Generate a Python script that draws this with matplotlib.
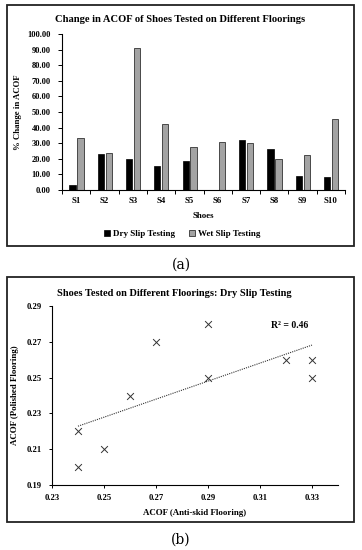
import matplotlib
matplotlib.use("Agg")
import matplotlib.pyplot as plt
import numpy as np
from matplotlib.patches import Rectangle

shoes = ["S1", "S2", "S3", "S4", "S5", "S6", "S7", "S8", "S9", "S10"]
dry = [3.2, 23.0, 19.8, 15.7, 18.9, 0.0, 32.1, 26.6, 8.8, 8.2]
wet = [33.3, 23.4, 91.2, 42.4, 27.3, 30.8, 30.1, 20.0, 22.4, 45.6]
bar_yticks = [0, 10, 20, 30, 40, 50, 60, 70, 80, 90, 100]

anti_skid = [0.24, 0.24, 0.25, 0.26, 0.27, 0.29, 0.29, 0.32, 0.33, 0.33]
polished = [0.22, 0.20, 0.21, 0.24, 0.27, 0.28, 0.25, 0.26, 0.26, 0.25]
sc_xticks = [0.23, 0.25, 0.27, 0.29, 0.31, 0.33]
sc_yticks = [0.19, 0.21, 0.23, 0.25, 0.27, 0.29]

plt.rcParams['font.family'] = ['Liberation Serif', 'DejaVu Serif']
plt.rcParams['font.weight'] = 'bold'

W, H = 362, 550
fig = plt.figure(figsize=(W / 100, H / 100), dpi=100)

def fx(px):
    return px / W

def fy(py):
    return 1 - py / H

# panel frames
for (x0, y0, x1, y1) in [(7, 5, 354, 246), (7, 277, 354, 522)]:
    fig.add_artist(Rectangle((fx(x0), fy(y1)), fx(x1) - fx(x0), fy(y0) - fy(y1),
                             transform=fig.transFigure, fill=False,
                             edgecolor='#222222', linewidth=1.3))

# ---- (a) bar chart
ax1 = fig.add_axes([fx(62), fy(190), fx(345) - fx(62), fy(34) - fy(190)])
x = np.arange(len(shoes))
bw = 0.22
ax1.bar(x - 0.13, dry, bw, color='black', edgecolor='black', linewidth=0.5,
        label='Dry Slip Testing')
ax1.bar(x + 0.15, wet, bw, color='#a3a3a3', edgecolor='#333333', linewidth=0.6,
        label='Wet Slip Testing')
ax1.set_xlim(-0.5, len(shoes) - 0.5)
ax1.set_ylim(0, 100)
ax1.set_yticks(bar_yticks)
ax1.set_yticklabels([f"{v:.2f}" for v in bar_yticks], fontsize=6, fontweight='bold')
ax1.set_xticks(x)
ax1.set_xticklabels(shoes, fontsize=6.3, fontweight='bold')
ax1.set_xticks(np.arange(-0.5, len(shoes)), minor=True)
ax1.tick_params(axis='x', which='major', length=0, pad=5)
ax1.tick_params(axis='x', which='minor', length=3, width=0.7, direction='out')
ax1.tick_params(axis='y', length=3, width=0.7, direction='out', pad=5)
for s in ['top', 'right']:
    ax1.spines[s].set_visible(False)
for s in ['left', 'bottom']:
    ax1.spines[s].set_linewidth(0.8)
fig.text(fx(180), fy(19), "Change in ACOF of Shoes Tested on Different Floorings",
         ha='center', va='center', fontsize=7.6, fontweight='bold')
ax1.set_xlabel("Shoes", fontsize=6.3, fontweight='bold', labelpad=5)
ax1.set_ylabel("% Change in ACOF", fontsize=6.3, fontweight='bold', labelpad=4)
ax1.legend(loc='center',
           bbox_to_anchor=((fx(182) - fx(62)) / (fx(345) - fx(62)),
                           (fy(234) - fy(190)) / (fy(34) - fy(190))),
           ncol=2, frameon=False, handlelength=0.7, handleheight=0.7, handletextpad=0.3,
           columnspacing=1.6, prop={'weight': 'bold', 'size': 6.5})

fig.text(fx(181), fy(265), "(a)", ha='center', va='center', fontsize=10,
         fontweight='normal', family=['DejaVu Serif'])

# ---- (b) scatter
ax2 = fig.add_axes([fx(52), fy(485), fx(338) - fx(52), fy(306) - fy(485)])
ax2.scatter(anti_skid, polished, marker='x', s=24, color='#333333', linewidths=0.7)
coef = np.polyfit(anti_skid, polished, 1)
xs = np.array([min(anti_skid), max(anti_skid)])
ax2.plot(xs, np.polyval(coef, xs), linestyle=(0, (1, 1)), color='#333333', linewidth=0.8)
pred = np.polyval(coef, anti_skid)
r2 = 1 - np.sum((np.array(polished) - pred) ** 2) / np.sum((np.array(polished) - np.mean(polished)) ** 2)
ax2.text(0.3215, 0.279, f"R² = {r2:.2f}", fontsize=7, fontweight='bold',
         ha='center', va='center')
ax2.set_xlim(0.23, 0.34)
ax2.set_ylim(0.19, 0.29)
ax2.set_xticks(sc_xticks)
ax2.set_xticklabels([f"{v:.2f}" for v in sc_xticks], fontsize=6.2, fontweight='bold')
ax2.set_yticks(sc_yticks)
ax2.set_yticklabels([f"{v:.2f}" for v in sc_yticks], fontsize=6.2, fontweight='bold')
ax2.tick_params(axis='y', length=2.5, width=0.7, direction='out', pad=5)
ax2.tick_params(axis='x', length=2.5, width=0.7, direction='out', pad=4)
for s in ['top', 'right']:
    ax2.spines[s].set_visible(False)
for s in ['left', 'bottom']:
    ax2.spines[s].set_linewidth(0.8)
fig.text(fx(174), fy(293), "Shoes Tested on Different Floorings: Dry Slip Testing",
         ha='center', va='center', fontsize=7.5, fontweight='bold')
ax2.set_xlabel("ACOF (Anti-skid Flooring)", fontsize=6.4, fontweight='bold', labelpad=5)
ax2.set_ylabel("ACOF (Polished Flooring)", fontsize=6.4, fontweight='bold', labelpad=5)

fig.text(fx(181), fy(540), "(b)", ha='center', va='center', fontsize=10,
         fontweight='normal', family=['DejaVu Serif'])

fig.savefig("out.png", dpi=100)
